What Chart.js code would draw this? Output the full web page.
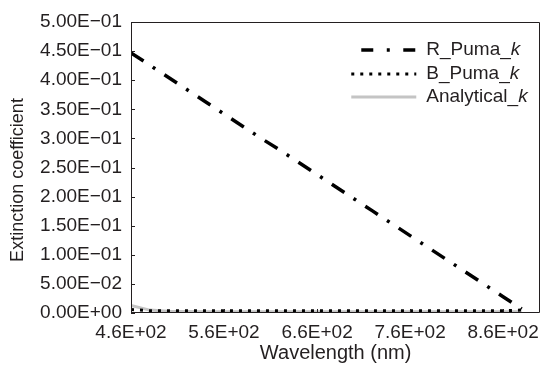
<!DOCTYPE html>
<html>
<head>
<meta charset="utf-8">
<script src="https://cdn.jsdelivr.net/npm/chart.js@4/dist/chart.umd.min.js"></script>
<style>
  html, body { margin: 0; padding: 0; background: #ffffff; }
  #wrap { width: 547px; height: 365px; }
</style>
</head>
<body>
<div id="wrap"><canvas id="c" width="547" height="365"></canvas></div>
<script>
// Wavelength sampling (nm)
const wavelengths = [460, 480, 500, 520, 540, 560, 580, 600, 620, 640, 660,
                     680, 700, 720, 740, 760, 780, 800, 820, 840, 860, 880];
// Extinction coefficient k for each model
const rPumaK = [0.447, 0.426, 0.405, 0.384, 0.363, 0.342, 0.321, 0.300, 0.280, 0.259, 0.238,
                0.217, 0.196, 0.175, 0.154, 0.133, 0.112, 0.091, 0.070, 0.049, 0.028, 0.007];
const bPumaK = [0.006, 0.004, 0.004, 0.004, 0.004, 0.004, 0.004, 0.004, 0.004, 0.004, 0.004,
                0.004, 0.004, 0.004, 0.004, 0.004, 0.004, 0.004, 0.004, 0.004, 0.004, 0.005];
const analyticalK = [0.013, 0.005, 0.003, 0.0025, 0.0022, 0.002, 0.002, 0.002, 0.002, 0.002, 0.002,
                     0.002, 0.002, 0.002, 0.002, 0.002, 0.002, 0.002, 0.002, 0.002, 0.002, 0.002];

// Axis ticks and their labels
const xTickValues = [460, 560, 660, 760, 860];
const xTickLabels = ['4.6E+02', '5.6E+02', '6.6E+02', '7.6E+02', '8.6E+02'];
const yTickValues = [0, 0.05, 0.1, 0.15, 0.2, 0.25, 0.3, 0.35, 0.4, 0.45, 0.5];
const yTickLabels = ['0.00E+00', '5.00E\u221202', '1.00E\u221201', '1.50E\u221201', '2.00E\u221201',
                     '2.50E\u221201', '3.00E\u221201', '3.50E\u221201', '4.00E\u221201', '4.50E\u221201',
                     '5.00E\u221201'];

const seriesNames = ['R_Puma_', 'B_Puma_', 'Analytical_'];
const yTitle = 'Extinction coefficient';

const INK = '#231f20';
const FONT = '"Liberation Sans", Arial, Helvetica, sans-serif';

const toPoints = (ys) => wavelengths.map((x, i) => ({ x: x, y: ys[i] }));

// Box around the plot area with tick marks pointing inward
const framePlugin = {
  id: 'frame',
  afterDatasetsDraw(chart) {
    const { ctx, chartArea: a, scales } = chart;
    ctx.save();
    ctx.strokeStyle = INK;
    ctx.lineWidth = 1;
    ctx.beginPath();
    ctx.rect(Math.round(a.left) + 0.5, Math.round(a.top) + 0.5,
             Math.round(a.right - a.left) - 1, Math.round(a.bottom - a.top) - 1);
    ctx.stroke();
    const len = 4;
    ctx.beginPath();
    scales.x.ticks.forEach(t => {
      const px = Math.round(scales.x.getPixelForValue(t.value)) + 0.5;
      ctx.moveTo(px, a.bottom);
      ctx.lineTo(px, a.bottom - len);
    });
    scales.y.ticks.forEach(t => {
      const py = Math.round(scales.y.getPixelForValue(t.value)) + 0.5;
      ctx.moveTo(a.left, py);
      ctx.lineTo(a.left + len, py);
    });
    ctx.stroke();

    // vertical axis title
    ctx.save();
    ctx.translate(18, 180);
    ctx.rotate(-Math.PI / 2);
    ctx.fillStyle = INK;
    ctx.font = '18px ' + FONT;
    ctx.textAlign = 'center';
    ctx.textBaseline = 'middle';
    ctx.fillText(yTitle, 0, 0);
    ctx.restore();
    ctx.restore();
  }
};

// Legend inside the upper right of the plot, with an italic k
const legendPlugin = {
  id: 'insideLegend',
  afterDraw(chart) {
    const { ctx, chartArea: a } = chart;
    const tx = a.right - 114;
    const rows = [a.top + 28, a.top + 52, a.top + 75];
    ctx.save();
    chart.data.datasets.forEach((ds, i) => {
      const y = rows[i];
      const x0 = a.right + (ds.legendStart || -189), x1 = a.right - 124;
      ctx.strokeStyle = ds.borderColor;
      ctx.lineWidth = ds.borderWidth;
      ctx.setLineDash(ds.legendDash || ds.borderDash || []);
      ctx.lineCap = 'butt';
      ctx.beginPath();
      ctx.moveTo(x0, y);
      ctx.lineTo(x1, y);
      ctx.stroke();
      ctx.setLineDash([]);
      ctx.fillStyle = INK;
      ctx.textBaseline = 'middle';
      ctx.textAlign = 'left';
      ctx.font = '19px ' + FONT;
      ctx.fillText(seriesNames[i], tx, y);
      const w = ctx.measureText(seriesNames[i]).width;
      ctx.font = 'italic 19px ' + FONT;
      ctx.fillText('k', tx + w, y);
    });
    ctx.restore();
  }
};

new Chart(document.getElementById('c'), {
  type: 'line',
  data: {
    datasets: [
      {
        label: 'R_Puma_k',
        data: toPoints(rPumaK),
        borderColor: '#000000',
        borderWidth: 3.5,
        borderDash: [15, 11, 3, 11],
        legendDash: [12, 13.5, 3, 13.5, 12, 100],
        legendStart: -179,
        pointRadius: 0,
        fill: false
      },
      {
        label: 'B_Puma_k',
        data: toPoints(bPumaK),
        borderColor: '#000000',
        borderWidth: 3,
        borderDash: [3, 6],
        pointRadius: 0,
        fill: false
      },
      {
        label: 'Analytical_k',
        data: toPoints(analyticalK),
        borderColor: '#c4c4c4',
        borderWidth: 3,
        borderDash: [],
        pointRadius: 0,
        fill: false
      }
    ]
  },
  options: {
    responsive: false,
    animation: false,
    devicePixelRatio: 1,
    layout: { padding: { top: 22, right: 3, left: 0, bottom: 0 } },
    plugins: { legend: { display: false }, tooltip: { enabled: false } },
    elements: { line: { tension: 0 } },
    scales: {
      x: {
        type: 'linear',
        min: 460,
        max: 900,
        afterBuildTicks: (s) => { s.ticks = xTickValues.map(v => ({ value: v })); },
        afterFit: (s) => { s.height = 52; },
        grid: { display: false, drawTicks: false },
        border: { display: false },
        ticks: {
          autoSkip: false,
          maxRotation: 0,
          padding: 8,
          color: INK,
          font: { family: FONT, size: 19 },
          callback: (v) => xTickLabels[xTickValues.indexOf(v)]
        },
        title: {
          display: true,
          text: 'Wavelength (nm)',
          color: INK,
          font: { family: FONT, size: 20, lineHeight: 1 },
          padding: { top: 0, bottom: 2 }
        }
      },
      y: {
        type: 'linear',
        min: 0,
        max: 0.5,
        afterBuildTicks: (s) => { s.ticks = yTickValues.map(v => ({ value: v })); },
        afterFit: (s) => { s.width = 131; },
        grid: { display: false, drawTicks: false },
        border: { display: false },
        ticks: {
          autoSkip: false,
          padding: 9,
          color: INK,
          font: { family: FONT, size: 19 },
          callback: (v) => yTickLabels[yTickValues.indexOf(v)]
        },
        title: { display: false }
      }
    }
  },
  plugins: [framePlugin, legendPlugin]
});
</script>
</body>
</html>
